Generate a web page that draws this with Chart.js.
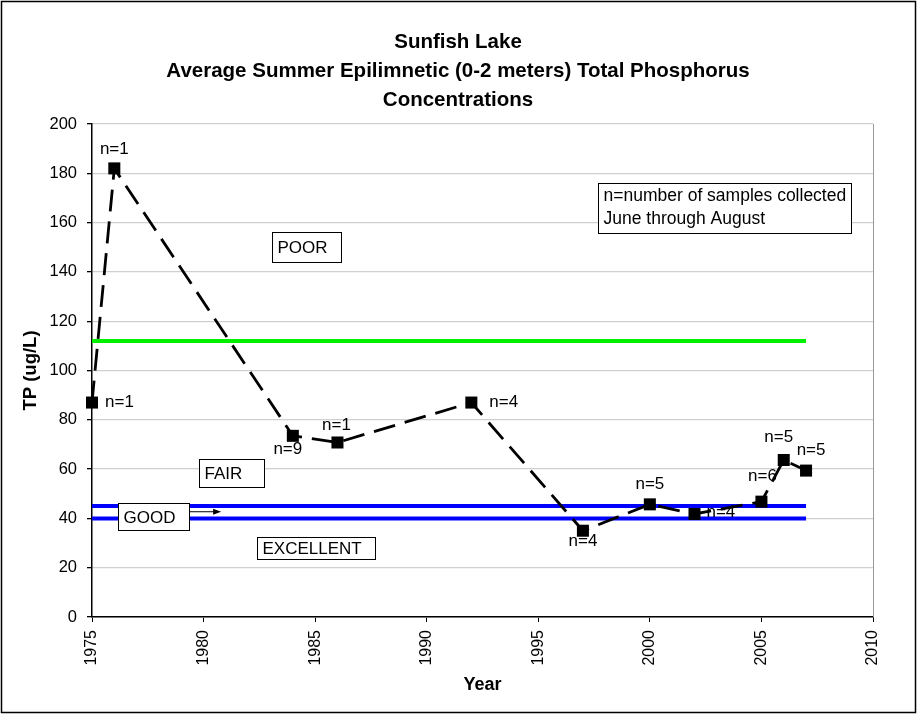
<!DOCTYPE html>
<html>
<head>
<meta charset="utf-8">
<script src="https://cdn.jsdelivr.net/npm/chart.js@4.4.1/dist/chart.umd.min.js"></script>
<style>
    html, body { margin: 0; padding: 0; background: #fff; }
    #wrap { width: 918px; height: 715px; position: relative; }
</style>
</head>
<body>
<div id="wrap"><canvas id="chart"></canvas></div>
<script>
(function () {
    "use strict";

    // Data
    const years = [1975, 1976, 1984, 1986, 1992, 1997, 2000, 2002, 2005, 2006, 2007];
    const tpValues = [87, 182, 73.5, 70.8, 87, 35, 45.7, 41.8, 46.8, 63.7, 59.4];
    const sampleCounts = ["n=1", "n=1", "n=9", "n=1", "n=4", "n=4", "n=5", "n=4", "n=6", "n=5", "n=5"];

    // Trophic class boundaries (ug/L)
    const thresholdYears = [1975, 2007];
    const poorFairLine = [112, 112];
    const fairGoodLine = [45, 45];
    const goodExcellentLine = [40, 40];

    const titleLines = [
        "Sunfish Lake",
        "Average Summer Epilimnetic (0-2 meters) Total Phosphorus",
        "Concentrations",
    ];

    // Label placement around each point, in pixels (dx, dy, align)
    const labelOffsets = [
        [13, 0, "left"], [0, -19, "center"], [-5, 13, "center"], [-1, -17, "center"],
        [18, 0, "left"], [0, 11, "center"], [0, -20, "center"], [12, -2, "left"],
        [1, -25, "center"], [-5, -23, "center"], [5, -20, "center"],
    ];

    const FONT = "'Liberation Sans', Arial, Helvetica, sans-serif";

    const toPoints = (xs, ys) => xs.map((x, i) => ({ x: x, y: ys[i] }));

    // Boxed class labels: anchor year / value of left-middle, box size in px
    const classBoxes = [
        { text: "POOR", year: 1983.07, value: 150.2, w: 69, h: 30 },
        { text: "FAIR", year: 1979.8, value: 58.5, w: 65, h: 28 },
        { text: "GOOD", year: 1976.17, value: 40.8, w: 71, h: 27 },
        { text: "EXCELLENT", year: 1982.4, value: 28.0, w: 118, h: 22 },
    ];

    const annotations = {
        id: "annotations",
        afterDatasetsDraw(chart) {
            const { ctx, scales: { x, y }, chartArea } = chart;
            ctx.save();

            // plot area right edge
            ctx.strokeStyle = "#9a9a9a";
            ctx.lineWidth = 1;
            ctx.beginPath();
            ctx.moveTo(Math.round(chartArea.right) + 0.5, chartArea.top);
            ctx.lineTo(Math.round(chartArea.right) + 0.5, chartArea.bottom);
            ctx.stroke();

            // n= labels
            ctx.font = "17px " + FONT;
            ctx.fillStyle = "#000";
            ctx.textBaseline = "middle";
            years.forEach((yr, i) => {
                const px = x.getPixelForValue(yr);
                const py = y.getPixelForValue(tpValues[i]);
                const o = labelOffsets[i];
                ctx.textAlign = o[2];
                ctx.fillText(sampleCounts[i], px + o[0], py + o[1]);
            });

            // class boxes
            ctx.textAlign = "left";
            classBoxes.forEach((b) => {
                const bx = Math.round(x.getPixelForValue(b.year)) + 0.5;
                const by = Math.round(y.getPixelForValue(b.value) - b.h / 2) + 0.5;
                ctx.fillStyle = "#fff";
                ctx.fillRect(bx, by, b.w, b.h);
                ctx.strokeStyle = "#000";
                ctx.lineWidth = 1;
                ctx.strokeRect(bx, by, b.w, b.h);
                ctx.fillStyle = "#000";
                ctx.fillText(b.text, bx + 5, by + b.h / 2 + 1);
            });

            // arrow from GOOD box towards the good band
            const good = classBoxes[2];
            const ax0 = x.getPixelForValue(good.year) + good.w;
            const ay = y.getPixelForValue(42.7);
            const ax1 = ax0 + 32;
            ctx.strokeStyle = "#000";
            ctx.lineWidth = 1;
            ctx.beginPath();
            ctx.moveTo(ax0, ay);
            ctx.lineTo(ax1 - 6, ay);
            ctx.stroke();
            ctx.beginPath();
            ctx.moveTo(ax1, ay);
            ctx.lineTo(ax1 - 8, ay - 3);
            ctx.lineTo(ax1 - 8, ay + 3);
            ctx.closePath();
            ctx.fill();

            // note box
            const nx = Math.round(x.getPixelForValue(1997.68)) + 0.5;
            const ny = Math.round(y.getPixelForValue(176.2)) + 0.5;
            ctx.fillStyle = "#fff";
            ctx.fillRect(nx, ny, 253, 50);
            ctx.strokeRect(nx, ny, 253, 50);
            ctx.fillStyle = "#000";
            ctx.font = "17.5px " + FONT;
            ctx.fillText("n=number of samples collected", nx + 5, ny + 13);
            ctx.fillText("June through August", nx + 5, ny + 36);

            ctx.restore();
        },
        afterDraw(chart) {
            const { ctx } = chart;
            ctx.save();
            ctx.strokeStyle = "#000";
            ctx.lineWidth = 1.5;
            ctx.strokeRect(1.5, 1.5, 914, 711);
            ctx.restore();
        },
    };

    const ctx = document.getElementById("chart").getContext("2d");

    new Chart(ctx, {
        type: "line",
        data: {
            datasets: [
                {
                    data: toPoints(years, tpValues),
                    borderColor: "#000",
                    borderWidth: 2.8,
                    borderDash: [22, 10],
                    pointStyle: "rect",
                    pointRadius: 8.5,
                    pointBackgroundColor: "#000",
                    pointBorderColor: "#000",
                    pointBorderWidth: 0,
                    clip: false,
                    order: 0,
                },
                {
                    data: toPoints(thresholdYears, poorFairLine),
                    borderColor: "#00f000",
                    borderWidth: 4,
                    pointRadius: 0,
                    order: 1,
                },
                {
                    data: toPoints(thresholdYears, fairGoodLine),
                    borderColor: "#0000ff",
                    borderWidth: 4,
                    pointRadius: 0,
                    order: 1,
                },
                {
                    data: toPoints(thresholdYears, goodExcellentLine),
                    borderColor: "#0000ff",
                    borderWidth: 4,
                    pointRadius: 0,
                    order: 1,
                },
            ],
        },
        options: {
            responsive: true,
            maintainAspectRatio: false,
            animation: false,
            layout: {
                padding: { top: 4, left: 4, right: 6, bottom: 4 },
            },
            plugins: {
                legend: { display: false },
                tooltip: { enabled: false },
                title: {
                    display: true,
                    text: titleLines,
                    color: "#000",
                    font: { family: FONT, size: 20.5, weight: "bold", lineHeight: 1.415 },
                    padding: { top: 23.5, bottom: 9.5 },
                },
            },
            scales: {
                x: {
                    type: "linear",
                    min: 1975,
                    max: 2010,
                    afterFit: (scale) => {
                        scale.height = 94;
                    },
                    ticks: {
                        stepSize: 5,
                        minRotation: 90,
                        maxRotation: 90,
                        padding: 8,
                        color: "#000",
                        font: { family: FONT, size: 16 },
                        callback: (v) => String(v),
                    },
                    grid: {
                        drawOnChartArea: false,
                        tickLength: 5,
                        tickColor: "#000",
                    },
                    border: { color: "#000", width: 1.5 },
                    title: {
                        display: true,
                        text: "Year",
                        color: "#000",
                        font: { family: FONT, size: 18, weight: "bold" },
                        padding: { top: 0, bottom: 15 },
                    },
                },
                y: {
                    min: 0,
                    max: 200,
                    afterFit: (scale) => {
                        scale.width = 88;
                    },
                    ticks: {
                        stepSize: 20,
                        padding: 10,
                        color: "#000",
                        font: { family: FONT, size: 16.5 },
                        callback: (v) => String(v),
                    },
                    grid: {
                        color: "#cfcfcf",
                        lineWidth: 1.3,
                        tickLength: 5,
                        tickColor: "#000",
                    },
                    border: { color: "#000", width: 1.5 },
                    title: {
                        display: true,
                        text: "TP (ug/L)",
                        color: "#000",
                        font: { family: FONT, size: 18.5, weight: "bold" },
                        padding: { top: 16, bottom: 0 },
                    },
                },
                // empty right-hand axis, only reserves the margin right of the plot
                yRight: {
                    position: "right",
                    min: 0,
                    max: 200,
                    afterFit: (scale) => {
                        scale.width = 39;
                    },
                    ticks: { display: false },
                    grid: { display: false },
                    border: { display: false },
                },
            },
        },
        plugins: [annotations],
    });
})();
</script>
</body>
</html>
